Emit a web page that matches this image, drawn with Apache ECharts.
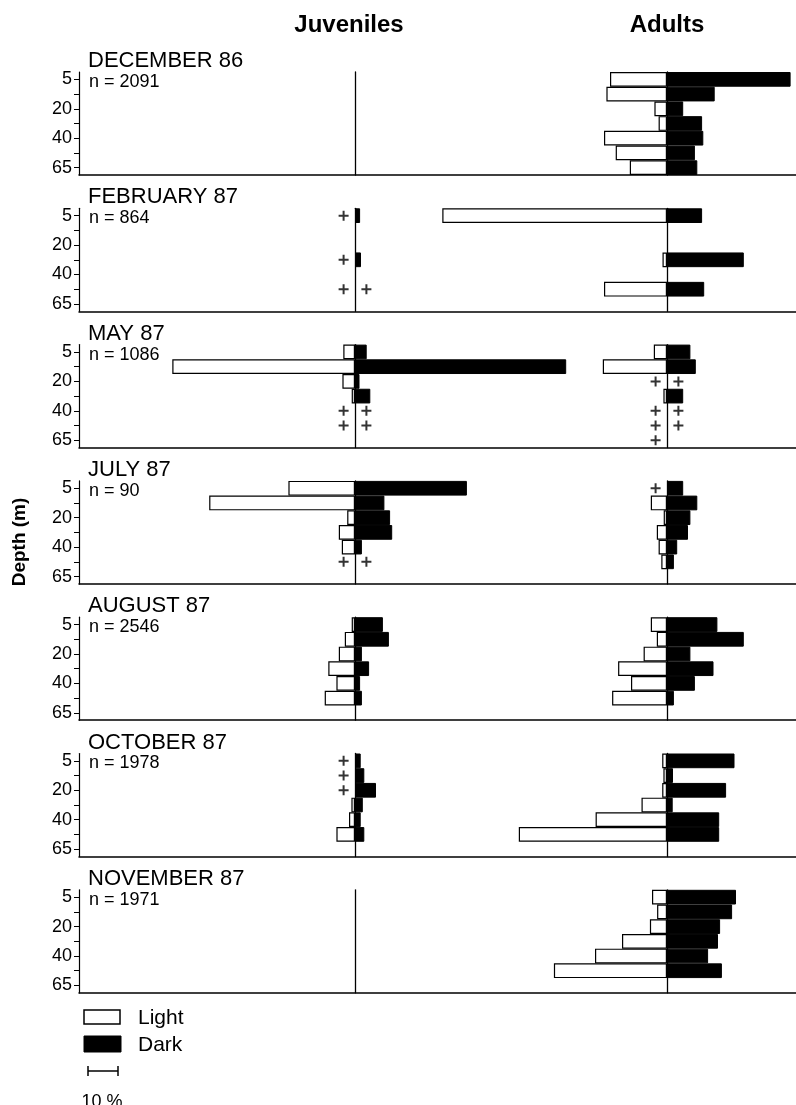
<!DOCTYPE html>
<html><head><meta charset="utf-8">
<script src="https://cdn.jsdelivr.net/npm/echarts@6/dist/echarts.min.js"></script>
<style>html,body{margin:0;padding:0;background:#fff}#c{width:796px;height:1105px}</style>
</head><body><div id="c"></div>
<script>
// ---------------- DATA ----------------
const DEPTHS = ['5', '10', '20', '30', '40', '50', '65'];
const MONTHS = ['DECEMBER 86', 'FEBRUARY 87', 'MAY 87', 'JULY 87', 'AUGUST 87', 'OCTOBER 87', 'NOVEMBER 87'];
const N_VALUES = [2091, 864, 1086, 90, 2546, 1978, 1971];
const STAGES = ['Juveniles', 'Adults'];
const LEGEND_NAMES = ['Light', 'Dark'];
const SCALE_LABEL = '10 %';
const SCALE_VALUE = 10;

// percentages per depth row (null = no bar)
const JUV_LIGHT = [
  [null, null, null, null, null, null, null],
  [null, null, null, null, null, null, null],
  [3.9, 60.9, 4.2, 1.1, null, null, null],
  [22.2, 48.6, 2.6, 5.4, 4.4, null, null],
  [1.1, 3.4, 5.4, 8.9, 6.2, 10.1, null],
  [null, null, null, 1.2, 2.0, 6.2, null],
  [null, null, null, null, null, null, null]
];
const JUV_DARK = [
  [null, null, null, null, null, null, null],
  [1.7, null, null, 2.0, null, null, null],
  [3.9, 70.4, 1.5, 5.1, null, null, null],
  [37.3, 9.8, 11.7, 12.4, 2.3, null, null],
  [9.3, 11.3, 2.3, 4.7, 1.7, 2.3, null],
  [1.9, 3.1, 7.0, 2.6, 1.9, 3.1, null],
  [null, null, null, null, null, null, null]
];
const ADU_LIGHT = [
  [19.0, 20.2, 4.2, 2.8, 21.0, 17.1, 12.4],
  [74.9, null, null, 1.5, null, 21.0, null],
  [4.4, 21.4, null, 1.2, null, null, null],
  [null, 5.4, 1.1, 3.4, 2.8, 1.9, null],
  [5.4, 3.4, 7.8, 16.3, 12.0, 18.3, null],
  [1.6, 1.2, 1.6, 8.5, 23.8, 49.4, null],
  [5.0, 3.3, 5.7, 15.0, 24.0, 37.7, null]
];
const ADU_DARK = [
  [41.2, 15.9, 5.4, 11.7, 12.1, 9.3, 10.1],
  [11.7, null, null, 25.6, null, 12.4, null],
  [7.8, 9.6, null, 5.4, null, null, null],
  [5.4, 10.1, 7.8, 7.0, 3.4, 2.3, null],
  [16.8, 25.6, 7.8, 15.5, 9.3, 2.3, null],
  [22.5, 2.0, 19.7, 1.9, 17.4, 17.4, null],
  [23.0, 21.7, 17.7, 17.0, 13.7, 18.3, null]
];
// rows marked "+" (present, too small to draw)
const JUV_LIGHT_PLUS = [[], [0, 3, 5], [4, 5], [5], [], [0, 1, 2], []];
const JUV_DARK_PLUS  = [[], [5], [4, 5], [5], [], [], []];
const ADU_LIGHT_PLUS = [[], [], [2, 4, 5, 6], [0], [], [], []];
const ADU_DARK_PLUS  = [[], [], [2, 4, 5], [], [], [], []];

// ---------------- LAYOUT ----------------
const FONT = "'Liberation Sans', Arial, sans-serif";
const FIRST_BOTTOM = 175, PITCH = 136.3;
const PANEL_H = 103;
const AXIS_X = 79;
const RIGHT_EDGE = 796;
const JUV_C = 355, ADU_C = 667, PX = 3;
const JUV_MIN = -90, JUV_MAX = 90, ADU_MIN = -80, ADU_MAX = (RIGHT_EDGE - 667) / 3;
const PLUS_OFF = 3.8;
const PLUS_PATH = 'path://M4,0H6V10H4ZM0,4H10V6H0Z';

const grids = [], xAxes = [], yAxes = [], series = [], graphics = [];

function addStage(top, center, min, max, light, dark, lplus, dplus) {
  const gi = grids.length;
  grids.push({left: center + min * PX, width: (max - min) * PX, top: top, height: PANEL_H});
  xAxes.push({gridIndex: gi, type: 'value', min: min, max: max,
    axisLine: {show: false}, axisTick: {show: false}, axisLabel: {show: false}, splitLine: {show: false}});
  yAxes.push({gridIndex: gi, type: 'category', data: DEPTHS, inverse: true,
    axisLine: {show: true, onZero: true, lineStyle: {color: '#000', width: 1.3}},
    axisTick: {show: false}, axisLabel: {show: false}, splitLine: {show: false}});
  const common = {type: 'bar', xAxisIndex: gi, yAxisIndex: gi, barCategoryGap: '0%', barGap: '-100%',
    silent: true, animation: false};
  series.push(Object.assign({}, common, {
    data: light.map(v => v == null ? null : -v),
    itemStyle: {color: '#fff', borderColor: '#000', borderWidth: 1.2}
  }));
  series.push(Object.assign({}, common, {
    data: dark.map(v => v == null ? null : v),
    itemStyle: {color: '#000', borderColor: '#000', borderWidth: 1}
  }));
  const plusData = lplus.map(r => [-PLUS_OFF, r]).concat(dplus.map(r => [PLUS_OFF, r]));
  if (plusData.length) {
    series.push({type: 'scatter', xAxisIndex: gi, yAxisIndex: gi, data: plusData,
      symbol: PLUS_PATH, symbolSize: 10, itemStyle: {color: '#000'}, silent: true, animation: false});
  }
}

for (let p = 0; p < MONTHS.length; p++) {
  const bottom = FIRST_BOTTOM + p * PITCH;
  const top = bottom - PANEL_H;
  const gi = grids.length;
  grids.push({left: AXIS_X, width: RIGHT_EDGE - AXIS_X, top: top, height: PANEL_H});
  xAxes.push({gridIndex: gi, type: 'value', min: 0, max: 1,
    axisLine: {show: true, lineStyle: {color: '#000', width: 1.5}},
    axisTick: {show: false}, axisLabel: {show: false}, splitLine: {show: false}});
  yAxes.push({gridIndex: gi, type: 'category', data: DEPTHS, inverse: true,
    axisLine: {show: true, lineStyle: {color: '#000', width: 1.2}},
    axisTick: {show: true, alignWithLabel: true, interval: 0, length: 5, lineStyle: {color: '#000'}},
    axisLabel: {interval: 1, color: '#000', fontSize: 18, fontFamily: FONT, margin: 7},
    splitLine: {show: false}});
  addStage(top, JUV_C, JUV_MIN, JUV_MAX, JUV_LIGHT[p], JUV_DARK[p], JUV_LIGHT_PLUS[p], JUV_DARK_PLUS[p]);
  addStage(top, ADU_C, ADU_MIN, ADU_MAX, ADU_LIGHT[p], ADU_DARK[p], ADU_LIGHT_PLUS[p], ADU_DARK_PLUS[p]);

  graphics.push({type: 'text', x: 88, y: top - 11, silent: true,
    style: {text: MONTHS[p], fontSize: 22, fontFamily: FONT, fill: '#000', textAlign: 'left', textVerticalAlign: 'middle'}});
  graphics.push({type: 'text', x: 89, y: top + 10, silent: true,
    style: {text: 'n = ' + N_VALUES[p], fontSize: 18, fontFamily: FONT, fill: '#000', textAlign: 'left', textVerticalAlign: 'middle'}});
}

// stage headers
graphics.push({type: 'text', x: 349, y: 25, silent: true,
  style: {text: STAGES[0], fontSize: 24, fontWeight: 'bold', fontFamily: FONT, fill: '#000', textAlign: 'center', textVerticalAlign: 'middle'}});
graphics.push({type: 'text', x: 667, y: 25, silent: true,
  style: {text: STAGES[1], fontSize: 24, fontWeight: 'bold', fontFamily: FONT, fill: '#000', textAlign: 'center', textVerticalAlign: 'middle'}});
// y axis title
graphics.push({type: 'text', x: 20, y: 542, rotation: Math.PI / 2, silent: true,
  style: {text: 'Depth (m)', fontSize: 19, fontWeight: 'bold', fontFamily: FONT, fill: '#000', textAlign: 'center', textVerticalAlign: 'middle'}});

// legend
const LEG_X = 84;
graphics.push({type: 'rect', shape: {x: LEG_X, y: 1010, width: 36, height: 14}, silent: true,
  style: {fill: '#fff', stroke: '#000', lineWidth: 1.5}});
graphics.push({type: 'text', x: 138, y: 1018, silent: true,
  style: {text: LEGEND_NAMES[0], fontSize: 21, fontFamily: FONT, fill: '#000', textAlign: 'left', textVerticalAlign: 'middle'}});
graphics.push({type: 'rect', shape: {x: LEG_X, y: 1036, width: 37, height: 16}, silent: true,
  style: {fill: '#000', stroke: '#000', lineWidth: 1}});
graphics.push({type: 'text', x: 138, y: 1045, silent: true,
  style: {text: LEGEND_NAMES[1], fontSize: 21, fontFamily: FONT, fill: '#000', textAlign: 'left', textVerticalAlign: 'middle'}});
// scale bar (10 % at the plotting scale)
const SB_X = 88, SB_Y = 1071, SB_W = SCALE_VALUE * PX;
graphics.push({type: 'line', shape: {x1: SB_X, y1: SB_Y, x2: SB_X + SB_W, y2: SB_Y}, silent: true, style: {stroke: '#000', lineWidth: 1.5}});
graphics.push({type: 'line', shape: {x1: SB_X, y1: SB_Y - 5, x2: SB_X, y2: SB_Y + 5}, silent: true, style: {stroke: '#000', lineWidth: 1.5}});
graphics.push({type: 'line', shape: {x1: SB_X + SB_W, y1: SB_Y - 5, x2: SB_X + SB_W, y2: SB_Y + 5}, silent: true, style: {stroke: '#000', lineWidth: 1.5}});
graphics.push({type: 'text', x: SB_X + SB_W / 2 - 1, y: 1102, silent: true,
  style: {text: SCALE_LABEL, fontSize: 18, fontFamily: FONT, fill: '#000', textAlign: 'center', textVerticalAlign: 'middle'}});

const chart = echarts.init(document.getElementById('c'), null, {renderer: 'canvas'});
chart.setOption({
  animation: false,
  backgroundColor: '#fff',
  grid: grids,
  xAxis: xAxes,
  yAxis: yAxes,
  series: series,
  graphic: {elements: graphics}
});
</script>
</body></html>
